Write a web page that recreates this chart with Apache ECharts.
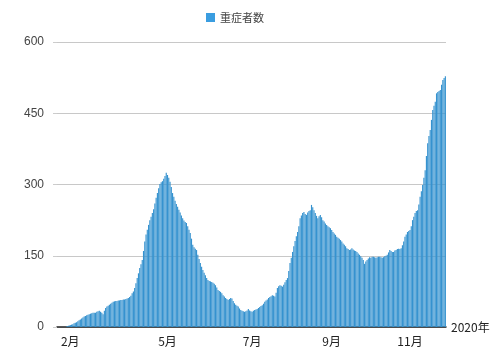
<!DOCTYPE html>
<html>
<head>
<meta charset="utf-8">
<script src="https://cdn.jsdelivr.net/npm/echarts@6/dist/echarts.min.js"></script>
<style>html,body{margin:0;padding:0;background:#fff}#c{width:500px;height:364px}</style>
</head>
<body>
<div id="c"></div>
<script>
// Daily severe cases (重症者数), starting 2020-02-04
const startDate = '2020-02-04';
const seriesName = '重症者数';
const severeCases = [
  0,0,0,0,0,0,0,1,2,3,
  4,5,6,8,9,10,12,14,16,18,
  20,22,23,25,26,27,28,29,30,30,
  30,32,33,34,32,30,27,34,40,43,
  45,47,49,51,53,54,55,55,56,56,
  57,57,58,58,59,60,61,63,66,71,
  75,82,92,103,113,124,132,141,160,180,
  195,205,215,225,232,240,248,260,272,282,
  292,301,305,307,312,318,325,320,314,306,
  295,282,274,266,259,253,247,241,235,229,
  224,221,219,212,205,198,186,173,168,165,
  162,152,143,135,127,120,114,109,103,99,
  97,96,95,93,91,88,83,78,76,74,
  71,67,64,61,59,57,59,61,60,55,
  50,47,45,43,39,36,34,33,32,33,
  35,38,35,33,32,34,36,37,38,40,
  42,44,46,49,53,56,58,61,63,65,
  67,66,64,72,82,86,88,87,85,89,
  94,99,103,118,135,146,158,170,181,191,
  200,212,229,235,240,242,238,236,241,244,
  246,257,252,246,240,234,229,233,236,231,
  225,222,218,215,212,210,208,204,200,197,
  194,190,188,186,183,180,176,173,170,166,
  164,162,163,166,163,161,160,158,155,152,
  149,146,141,133,138,141,144,147,146,148,
  148,147,146,147,148,148,147,146,147,149,
  150,152,157,162,160,158,158,161,162,164,
  165,164,166,172,180,190,195,200,202,204,
  212,225,232,240,244,246,258,274,286,299,
  314,330,360,387,402,415,436,457,466,474,
  492,495,497,499,510,520,524,528
];
const monthLabels = ['2月','5月','7月','9月','11月'];
const labelDates = ['2020-02-14','2020-05-01','2020-07-07','2020-09-08','2020-11-09'];
const yTicks = [0,150,300,450,600];
const axisName = '2020年';

function fmt(d){
  const m = String(d.getUTCMonth()+1).padStart(2,'0');
  const dd = String(d.getUTCDate()).padStart(2,'0');
  return d.getUTCFullYear()+'-'+m+'-'+dd;
}
const dates = [];
const base = new Date(startDate+'T00:00:00Z');
for (let i=0;i<severeCases.length;i++){
  dates.push(fmt(new Date(base.getTime()+i*86400000)));
}
const labelMap = {};
labelDates.forEach((d,k)=>{labelMap[d]=monthLabels[k];});

const chart = echarts.init(document.getElementById('c'));
chart.setOption({
  animation:false,
  backgroundColor:'#fff',
  legend:{
    data:[seriesName],
    left:201, top:7,
    itemWidth:9, itemHeight:9, itemGap:6,
    icon:'rect',
    itemStyle:{color:'#3a9de0'},
    textStyle:{fontFamily:'Noto Sans CJK JP',fontSize:11,color:'#444'}
  },
  grid:{left:57,right:54,top:42,bottom:37},
  xAxis:{
    type:'category',
    data:dates,
    name:axisName,
    nameLocation:'end',
    nameGap:5,
    nameTextStyle:{fontFamily:'Noto Sans CJK JP',fontSize:12,color:'#222',verticalAlign:'middle'},
    axisLine:{lineStyle:{color:'#222',width:1.5}},
    axisTick:{show:false},
    axisLabel:{
      interval:(idx,val)=>labelMap[val]!==undefined,
      formatter:(val)=>labelMap[val]||'',
      fontFamily:'Noto Sans CJK JP',fontSize:12,color:'#222',margin:8
    }
  },
  yAxis:{
    type:'value',
    min:yTicks[0], max:yTicks[yTicks.length-1], interval:150,
    axisLine:{show:false},
    axisTick:{show:true,length:4,lineStyle:{color:'#ccc'}},
    axisLabel:{fontFamily:'Liberation Sans',fontSize:12,color:'#444',margin:13},
    splitLine:{lineStyle:{color:'#c8c8c8',width:1}}
  },
  series:[{
    name:seriesName,
    type:'bar',
    data:severeCases,
    barCategoryGap:'10%',
    itemStyle:{color:'#3592cf'}
  }]
});
</script>
</body>
</html>
